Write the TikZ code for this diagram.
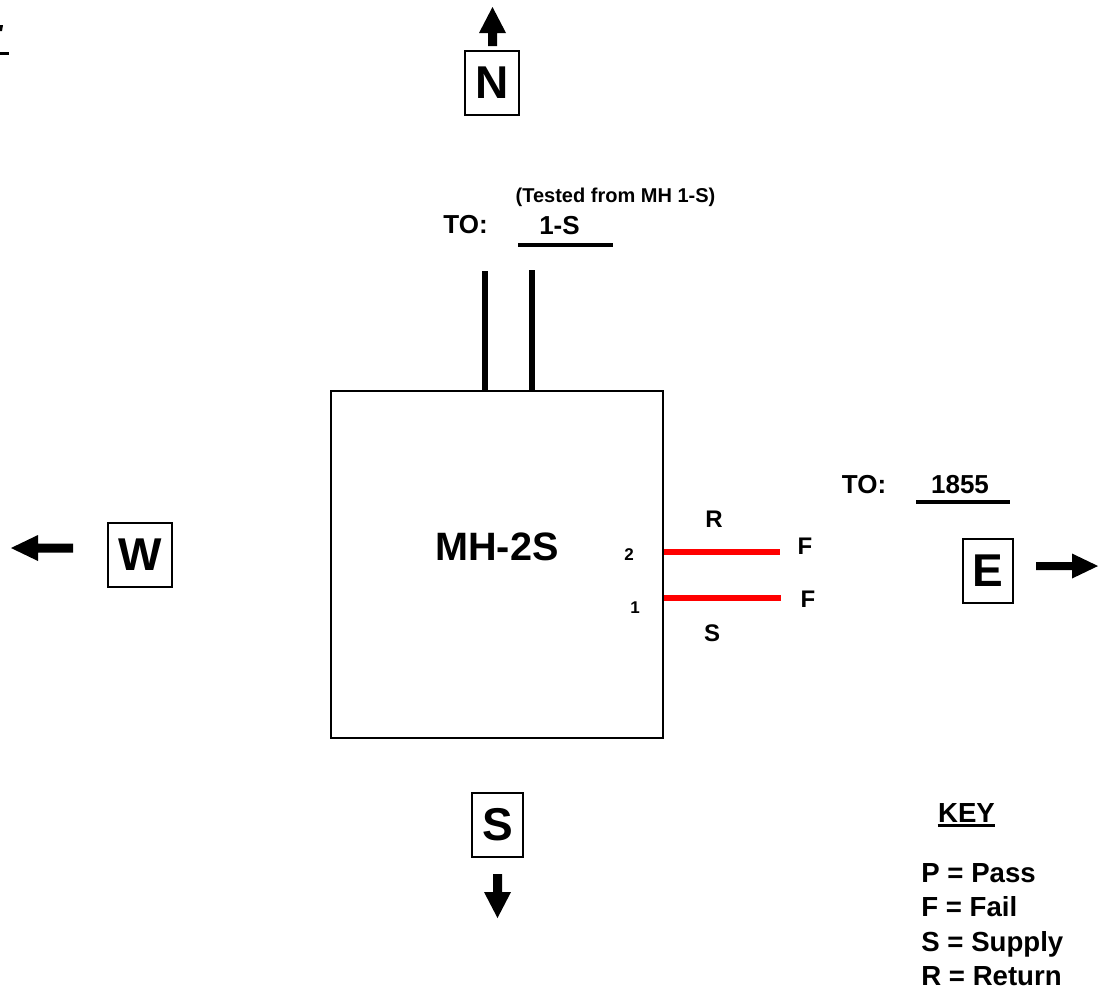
\documentclass[tikz,border=0pt]{standalone}
\usepackage{fontspec}
\setmainfont{Liberation Sans}
\begin{document}
\begin{tikzpicture}[x=0.5pt,y=-0.5pt,
  txt/.style={inner sep=0pt, anchor=base},
  big/.style={txt, font=\bfseries\fontsize{13pt}{15pt}\selectfont},
  small/.style={txt, font=\bfseries\fontsize{10pt}{12pt}\selectfont},
  tiny/.style={txt, font=\bfseries\fontsize{8.5pt}{10pt}\selectfont},
  mid/.style={txt, font=\bfseries\fontsize{12pt}{14pt}\selectfont},
  keyl/.style={inner sep=0pt, anchor=base west, font=\bfseries\fontsize{13.8pt}{16pt}\selectfont},
  compass/.style={draw, line width=0.75pt, inner sep=0pt, minimum width=27pt, minimum height=32pt, font=\bfseries\fontsize{23pt}{26pt}\selectfont},
  pipe/.style={line width=3pt},
  redline/.style={line width=3pt, red},
  uline/.style={line width=2pt},
  fatarrow/.style={fill=black}
]
\useasboundingbox (0,0) rectangle (1111,992);

% clipped fragment at top-left
\fill (0,25) -- (3,25) -- (2,31) -- (0,31) -- cycle;
\draw[line width=1.6pt] (0,53.5) -- (9,53.5);

% compass boxes
\node[compass] (N) at (492,83) {N};
\node[compass, minimum width=32pt] (W) at (140,555) {W};
\node[compass, minimum width=25pt] (E) at (988,571) {E};
\node[compass, minimum width=25.5pt] (S) at (497.5,825) {S};

% compass arrows
\fill[fatarrow] (488,46) -- (488,33) -- (479,33) -- (492.5,7) -- (506,33) -- (497,33) -- (497,46) -- cycle;
\fill[fatarrow] (73,543.5) -- (38,543.5) -- (38,535) -- (11,548) -- (38,561) -- (38,552.5) -- (73,552.5) -- cycle;
\fill[fatarrow] (1036,562) -- (1072,562) -- (1072,553.5) -- (1098,566) -- (1072,578.5) -- (1072,570) -- (1036,570) -- cycle;
\fill[fatarrow] (493,874) -- (493,892) -- (484,892) -- (497.5,918) -- (511,892) -- (502,892) -- (502,874) -- cycle;

% main manhole box
\node[draw, line width=1.3pt, inner sep=0pt, minimum width=166pt, minimum height=173.5pt] (mh) at (497,564.5) {};
\node[txt, font=\bfseries\fontsize{19.8pt}{22pt}\selectfont] (mhl) at (497,560) {MH-2S};

% north connection
\node[small] (tested) at (615.5,202) {(Tested from MH 1-S)};
\node[big] (to1) at (465.5,233.5) {TO:};
\node[big] (dest1) at (559.5,234.5) {1-S};
\coordinate (u1a) at (518,244.5);
\coordinate (u1b) at (613,244.5);
\draw[uline] (u1a) -- (u1b);
\coordinate (p1) at (485,271);
\coordinate (p2) at (532,270);
\draw[pipe] (p1) -- (p1 |- mh.north);
\draw[pipe] (p2) -- (p2 |- mh.north);

% east connection
\node[tiny] (n2) at (629,560) {2};
\node[tiny] (n1) at (635,613) {1};
\coordinate (r2) at (780,552);
\coordinate (r1) at (781,598);
\draw[redline] (mh.east |- r2) -- (r2);
\draw[redline] (mh.east |- r1) -- (r1);
\node[mid] (lr) at (714,527) {R};
\node[mid] (lf2) at (805,554) {F};
\node[mid] (lf1) at (808,607) {F};
\node[mid] (ls) at (712,641) {S};
\node[big] (to2) at (864,493) {TO:};
\node[big] (dest2) at (960,493) {1855};
\coordinate (u2a) at (916,501.5);
\coordinate (u2b) at (1010,501.5);
\draw[uline] (u2a) -- (u2b);

% key
\node[txt, font=\bfseries\fontsize{13.8pt}{16pt}\selectfont] (key) at (966.5,822) {KEY};
\draw[line width=1.5pt] ([yshift=-1.75pt]key.base west) -- ([yshift=-1.75pt]key.base east);
\node[keyl] (k1) at (921,882) {P = Pass};
\node[keyl] (k2) at (921,916.5) {F = Fail};
\node[keyl] (k3) at (921,951) {S = Supply};
\node[keyl] (k4) at (921,985.5) {R = Return};
\end{tikzpicture}
\end{document}
